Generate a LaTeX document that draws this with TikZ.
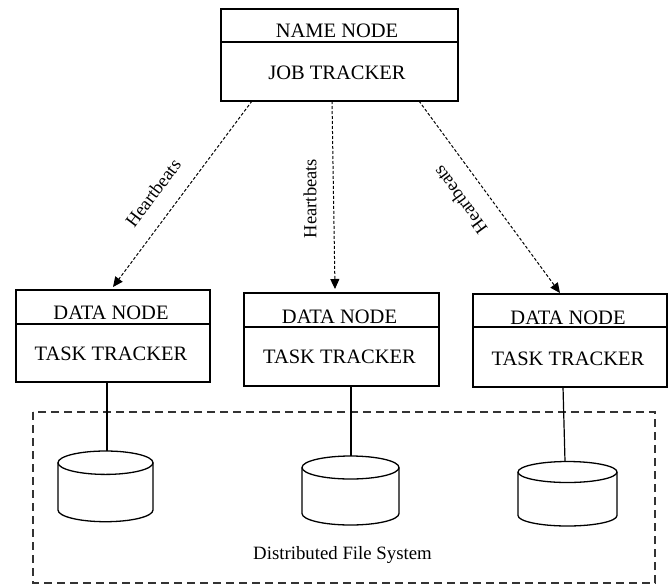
\documentclass[tikz,border=0pt]{standalone}
\usepackage{fontspec}
\setmainfont{Liberation Serif}
\usetikzlibrary{arrows.meta,calc}
\begin{document}
\begin{tikzpicture}[x=1pt,y=1pt,
  boxnode/.style={draw=black, line width=1.3pt, rectangle, inner sep=0pt, outer sep=0pt},
  divider/.style={draw=black, line width=1.3pt},
  boxlabel/.style={anchor=base, inner sep=0pt, font=\fontsize{20.5}{23}\selectfont},
  hblabel/.style={inner sep=0pt, font=\fontsize{18.5}{21}\selectfont},
  hbarrow/.style={draw=black, line width=1pt, dash pattern=on 3pt off 2pt,
    -{Triangle[length=10pt,width=9pt]}},
  link/.style={draw=black, line width=1.2pt},
  cyl/.style={draw=black, line width=1.3pt},
  dfsframe/.style={draw=black!80, line width=1.2pt, dash pattern=on 8pt off 5pt},
  dfslabel/.style={anchor=base, inner sep=0pt, font=\fontsize{18.8}{21}\selectfont}
]
\useasboundingbox (0,0) rectangle (671,-584);

% distributed file system frame
\draw[dfsframe] (33,-412) rectangle (655,-583);
\node[dfslabel] (dfs) at (342.5,-559) {Distributed File System};

% name node box
\node[boxnode, minimum width=237pt, minimum height=92pt] (nn) at (339.5,-55) {};
\draw[divider] (nn.west |- 0,-42) -- (nn.east |- 0,-42);
\node[boxlabel] (nnA) at (337,-37) {NAME NODE};
\node[boxlabel] (nnB) at (337,-79) {JOB TRACKER};

% data node boxes
\node[boxnode, minimum width=194pt, minimum height=92pt] (d1) at (113,-336) {};
\draw[divider] (d1.west |- 0,-324) -- (d1.east |- 0,-324);
\node[boxlabel] (d1A) at (111,-319) {DATA NODE};
\node[boxlabel] (d1B) at (111,-360) {TASK TRACKER};

\node[boxnode, minimum width=195pt, minimum height=93pt] (d2) at (341.5,-339.5) {};
\draw[divider] (d2.west |- 0,-327) -- (d2.east |- 0,-327);
\node[boxlabel] (d2A) at (339.5,-323) {DATA NODE};
\node[boxlabel] (d2B) at (339.5,-363) {TASK TRACKER};

\node[boxnode, minimum width=194pt, minimum height=93pt] (d3) at (570,-340.5) {};
\draw[divider] (d3.west |- 0,-327) -- (d3.east |- 0,-327);
\node[boxlabel] (d3A) at (568,-324) {DATA NODE};
\node[boxlabel] (d3B) at (568,-365) {TASK TRACKER};

% heartbeat arrows
\draw[hbarrow] ($(nn.south)+(-87.5,0)$) -- ($(d1.north)+(0,3)$);
\draw[hbarrow] ($(nn.south)+(-7.5,0)$) -- ($(d2.north)+(-6.5,4)$);
\draw[hbarrow] ($(nn.south)+(79.5,0)$) -- ($(d3.north)+(-10,1)$);
\node[hblabel, rotate=53] (hb1) at (153,-193) {Heartbeats};
\node[hblabel, rotate=90] (hb2) at (310,-198.5) {Heartbeats};
\node[hblabel, rotate=126] (hb3) at (460,-200) {Heartbeats};

% cylinders
\coordinate (c1) at (105.5,-462.7);
\coordinate (c2) at (350.5,-467.5);
\coordinate (c3) at (567.5,-472);
\draw[cyl] (c1) ellipse [x radius=47.5pt, y radius=11.7pt];
\draw[cyl] ($(c1)+(-47.5,0)$) -- ++(0,-47.3)
  arc[start angle=180, end angle=360, x radius=47.5pt, y radius=11.7pt] -- ++(0,47.3);
\draw[cyl] (c2) ellipse [x radius=48.5pt, y radius=11.5pt];
\draw[cyl] ($(c2)+(-48.5,0)$) -- ++(0,-46)
  arc[start angle=180, end angle=360, x radius=48.5pt, y radius=11.5pt] -- ++(0,46);
\draw[cyl] (c3) ellipse [x radius=49.5pt, y radius=10.5pt];
\draw[cyl] ($(c3)+(-49.5,0)$) -- ++(0,-43.5)
  arc[start angle=180, end angle=360, x radius=49.5pt, y radius=10.5pt] -- ++(0,43.5);
\coordinate (c1top) at ($(c1)+(1.5,11.7)$);
\coordinate (c2top) at ($(c2)+(0.5,11.5)$);
\coordinate (c3top) at ($(c3)+(-2.5,10.5)$);

% links from data nodes to storage
\draw[link] (d1.south -| c1top) -- (c1top);
\draw[link] (d2.south -| c2top) -- (c2top);
\draw[link] ($(d3.south)+(-7,0)$) -- (c3top);
\end{tikzpicture}
\end{document}
